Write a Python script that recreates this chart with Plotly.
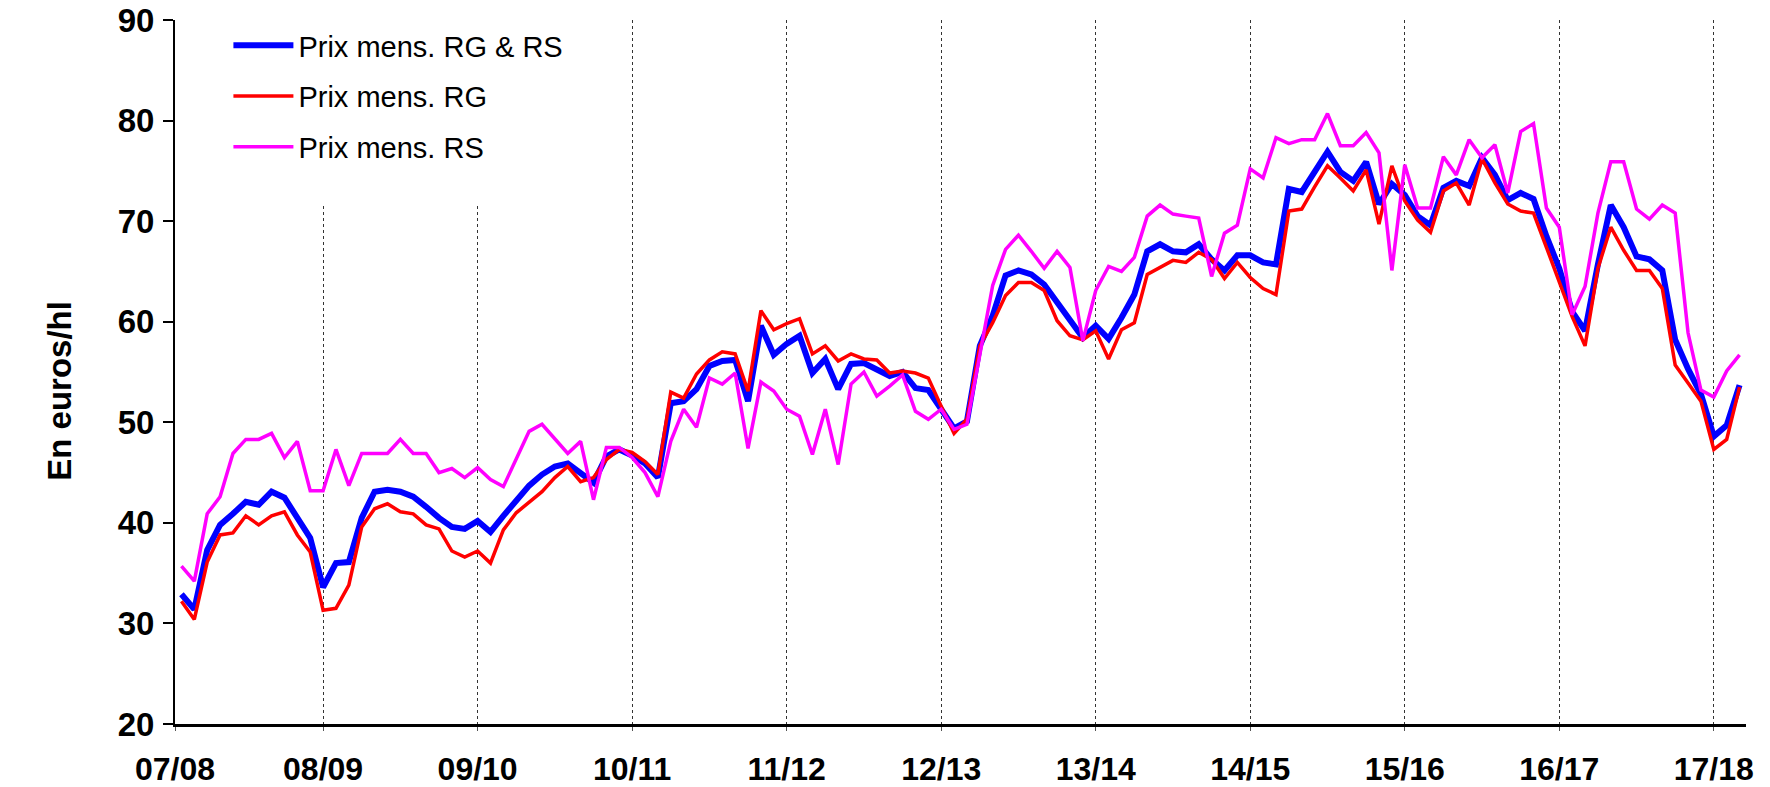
import plotly.graph_objects as go

# monthly index: 1 = first month of 07/08 campaign
months = list(range(1, 123))

seasons = ["07/08", "08/09", "09/10", "10/11", "11/12", "12/13",
           "13/14", "14/15", "15/16", "16/17", "17/18"]
season_pos = [0.5, 12, 24, 36, 48, 60, 72, 84, 96, 108, 120]

# Prix mens. RG & RS
rg_rs = [32.9, 31.4, 37.3, 39.8, 40.9, 42.1, 41.8, 43.1, 42.5, 40.5, 38.5, 33.6,
         36.0, 36.1, 40.5, 43.1, 43.3, 43.1, 42.6, 41.6, 40.5, 39.6, 39.4, 40.2,
         39.1, 40.7, 42.3, 43.7, 44.8, 45.6, 45.9, 44.9, 44.0, 46.6, 47.3, 46.7,
         45.9, 44.5, 51.9, 52.1, 53.3, 55.6, 56.1, 56.2, 52.1, 59.6, 56.7, 57.8,
         58.6, 54.9, 56.3, 53.3, 55.8, 55.9, 55.3, 54.6, 55.0, 53.4, 53.2, 51.4,
         49.4, 50.1, 57.6, 60.6, 64.6, 65.1, 64.7, 63.7, 61.9, 60.2, 58.4, 59.6,
         58.3, 60.4, 62.7, 67.0, 67.7, 67.0, 66.9, 67.7, 66.2, 65.1, 66.6, 66.6,
         65.9, 65.7, 73.2, 72.9, 74.9, 76.9, 74.9, 74.0, 75.9, 71.7, 73.7, 72.6,
         70.5, 69.6, 73.3, 74.0, 73.5, 76.3, 74.6, 72.1, 72.8, 72.2, 68.5, 65.3,
         61.0, 59.1, 65.7, 71.6, 69.4, 66.5, 66.2, 65.1, 58.2, 55.3, 52.8, 48.6,
         49.7, 53.7]

# Prix mens. RG
rg = [32.2, 30.4, 36.1, 38.8, 39.0, 40.7, 39.8, 40.7, 41.1, 38.8, 37.1, 31.3,
      31.5, 33.8, 39.6, 41.4, 41.9, 41.1, 40.9, 39.8, 39.4, 37.2, 36.6, 37.2,
      36.0, 39.3, 41.0, 42.0, 43.1, 44.5, 45.6, 44.1, 44.5, 46.3, 47.3, 47.0,
      46.1, 44.8, 53.0, 52.4, 54.8, 56.2, 57.0, 56.8, 53.1, 61.1, 59.2, 59.8,
      60.3, 56.8, 57.6, 56.1, 56.8, 56.3, 56.2, 54.9, 55.1, 54.9, 54.4, 51.6,
      48.9, 50.3, 57.6, 59.9, 62.6, 63.9, 63.9, 63.1, 60.1, 58.6, 58.2, 59.1,
      56.3, 59.2, 59.9, 64.7, 65.4, 66.1, 65.9, 66.9, 66.2, 64.3, 65.9, 64.4,
      63.3, 62.7, 71.0, 71.2, 73.4, 75.5, 74.3, 73.0, 75.1, 69.7, 75.5, 72.0,
      70.1, 68.9, 73.0, 73.8, 71.6, 76.2, 73.8, 71.7, 71.0, 70.8, 67.4, 63.9,
      60.5, 57.6, 65.3, 69.4, 67.1, 65.1, 65.1, 63.3, 55.7, 53.9, 52.1, 47.3,
      48.3, 53.5]

# Prix mens. RS
rs = [35.7, 34.2, 40.9, 42.6, 46.9, 48.3, 48.3, 48.9, 46.5, 48.1, 43.2, 43.2,
      47.3, 43.7, 46.9, 46.9, 46.9, 48.3, 46.9, 46.9, 45.0, 45.4, 44.5, 45.5,
      44.3, 43.6, 46.4, 49.1, 49.8, 48.3, 46.9, 48.1, 42.3, 47.5, 47.5, 46.5,
      45.0, 42.6, 48.1, 51.3, 49.5, 54.4, 53.8, 54.9, 47.4, 54.0, 53.1, 51.3,
      50.6, 46.8, 51.3, 45.8, 53.8, 55.0, 52.6, 53.6, 54.7, 51.1, 50.3, 51.3,
      49.3, 49.8, 56.9, 63.6, 67.2, 68.6, 67.0, 65.3, 67.0, 65.4, 58.1, 63.1,
      65.5, 65.0, 66.4, 70.5, 71.6, 70.7, 70.5, 70.3, 64.5, 68.8, 69.6, 75.2,
      74.3, 78.3, 77.7, 78.1, 78.1, 80.7, 77.5, 77.5, 78.8, 76.8, 65.1, 75.6,
      71.3, 71.3, 76.4, 74.6, 78.1, 76.3, 77.6, 72.8, 78.9, 79.7, 71.3, 69.4,
      60.7, 63.5, 70.8, 75.9, 75.9, 71.2, 70.2, 71.6, 70.8, 58.9, 53.2, 52.5,
      55.1, 56.7]

FONT = "Liberation Sans, Arial, sans-serif"

fig = go.Figure()
fig.add_trace(go.Scatter(x=months, y=rg_rs, mode="lines", name="Prix mens. RG & RS",
                         line=dict(color="#0000FF", width=6), legendgroup="a"))
fig.add_trace(go.Scatter(x=months, y=rg, mode="lines", name="Prix mens. RG",
                         line=dict(color="#FF0000", width=3.5), legendgroup="b"))
fig.add_trace(go.Scatter(x=months, y=rs, mode="lines", name="Prix mens. RS",
                         line=dict(color="#FF00FF", width=3.5), legendgroup="c"))

# white area behind the legend (hides the dotted lines there, as in the original)
fig.add_shape(type="rect", xref="paper", yref="paper", x0=0.01, x1=0.25,
              y0=0.74, y1=1, fillcolor="white", line_width=0, layer="above")

# page body adds an 8px offset, so the figure is 8px smaller than the window
fig.update_layout(
    width=1762, height=779,
    margin=dict(l=167, r=24, t=12, b=63),
    plot_bgcolor="white", paper_bgcolor="white",
    font=dict(family=FONT, color="black"),
    showlegend=True,
    legend=dict(x=0.034, y=1.0, xanchor="left", yanchor="top",
                bgcolor="white", borderwidth=0,
                font=dict(family=FONT, size=29, color="black"),
                tracegroupgap=10, itemwidth=60),
    xaxis=dict(range=[0.5, 122.5], tickmode="array",
               tickvals=season_pos, ticktext=seasons,
               showgrid=True, gridcolor="#333333", gridwidth=1, griddash="dot",
               showline=True, linecolor="black", linewidth=3,
               ticks="outside", ticklen=4, tickcolor="#555555",
               ticklabelstandoff=11, automargin=False, ticklabeloverflow="allow",
               tickfont=dict(family=FONT, size=32, color="black", weight="bold"),
               zeroline=False),
    yaxis=dict(range=[20, 90], tickmode="linear", tick0=20, dtick=10,
               showgrid=False, showline=True, linecolor="black", linewidth=2,
               ticks="outside", ticklen=10, tickwidth=2, tickcolor="black",
               ticklabelstandoff=2, automargin=False, ticklabeloverflow="allow",
               tickfont=dict(family=FONT, size=33, color="black", weight="bold"),
               zeroline=False),
)

fig.add_annotation(text="En euros/hl", xref="paper", yref="paper",
                   x=-0.0735, y=0.4727, showarrow=False, textangle=-90,
                   xanchor="center", yanchor="middle",
                   font=dict(family=FONT, size=33, color="black", weight="bold"))

fig.write_html("out.html")
